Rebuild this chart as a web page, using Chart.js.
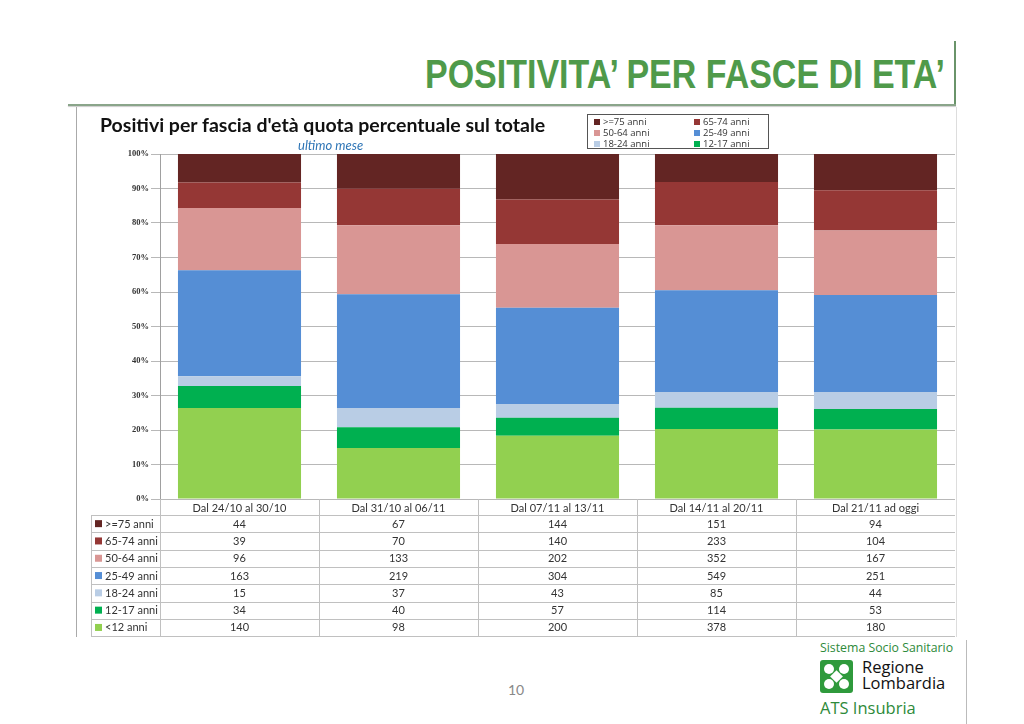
<!DOCTYPE html>
<html>
<head>
<meta charset="utf-8">
<script src="https://cdn.jsdelivr.net/npm/chart.js@4"></script>
<style>
  html, body { margin: 0; padding: 0; background: #fff; }
  body { width: 1024px; height: 724px; position: relative; overflow: hidden; font-family: Lato, "Open Sans", sans-serif; }
  #pageTitle { position: absolute; left: 0; top: 52px; width: 945px; text-align: right; white-space: nowrap;
    font-family: "Liberation Sans Narrow", "Liberation Sans", Arial, sans-serif; font-weight: bold; font-size: 40px; color: #4f9a4a; }
  #pageTitle span { display: inline-block; transform-origin: right center; }
  .rule-h { position: absolute; left: 68px; top: 104px; width: 888px; height: 2px; background: #8aa58a; box-shadow: 0 1px 1px #ccc; }
  .rule-v { position: absolute; left: 954px; top: 41px; width: 2px; height: 65px; background: #6a946a; }
  .frame { position: absolute; left: 76px; top: 107px; width: 879px; height: 530px; border-left: 1px solid #aaa; border-right: 1px solid #ddd; }
  #chartWrap { position: absolute; left: 76px; top: 107px; width: 879px; height: 530px; }
  #chartTitle { position: absolute; left: 100px; top: 113px; font-family: Lato, sans-serif; font-weight: bold; font-size: 19.5px; color: #111; }
  #subTitle { position: absolute; left: 298px; top: 137px; font-family: Lato, sans-serif; font-style: italic; font-size: 13px; color: #2e75b6; }
  #legend { position: absolute; left: 587px; top: 114px; width: 182px; height: 35px; border: 1px solid #555; box-sizing: border-box;
    display: grid; grid-template-columns: 100px 80px; grid-auto-rows: 11px; padding: 1px 0 0 6px; font-family: "Open Sans", sans-serif; font-size: 9.5px; color: #333; }
  #legend div { display: flex; align-items: center; white-space: nowrap; }
  #legend i { display: inline-block; width: 6px; height: 6px; margin-right: 3px; }
  #pageNum { position: absolute; left: 508px; top: 681px; font-family: Lato, sans-serif; font-size: 14px; color: #888; }
  #logo { position: absolute; left: 820px; top: 639px; }
  .sss { position: absolute; left: 0; top: 0; white-space: nowrap; font-family: "Open Sans", sans-serif; font-size: 12.3px; color: #2e8a3a; }
  .reg { position: absolute; left: 42px; top: 20px; white-space: nowrap; font-family: "Open Sans", sans-serif; font-size: 16.5px; line-height: 16px; color: #111; }
  .ats { position: absolute; left: 0; top: 57px; white-space: nowrap; font-family: "Open Sans", sans-serif; font-size: 16.5px; color: #2e8a3a; }
  .rule-v2 { position: absolute; left: 966px; top: 640px; width: 1px; height: 84px; background: #bbb; }
</style>
</head>
<body>
<div id="pageTitle"><span>POSITIVITA’ PER FASCE DI ETA’</span></div>
<div class="rule-v"></div>
<div class="rule-h"></div>
<div class="frame"></div>
<div id="chartWrap"><canvas id="chart"></canvas></div>
<div id="chartTitle">Positivi per fascia d'età quota percentuale sul totale</div>
<div id="subTitle">ultimo mese</div>
<div id="legend"></div>
<div id="pageNum">10</div>
<div class="rule-v2"></div>
<div id="logo">
  <div class="sss">Sistema Socio Sanitario</div>
  <svg style="position:absolute;left:0;top:21px" width="33" height="33" viewBox="0 0 33 33">
    <rect x="0" y="0" width="33" height="33" rx="3" fill="#2f9a3c"/>
    <g fill="#fff">
      <circle cx="9" cy="9" r="5"/><circle cx="24" cy="9" r="5"/>
      <circle cx="9" cy="24" r="5"/><circle cx="24" cy="24" r="5"/>
      <rect x="12" y="12" width="9" height="9" transform="rotate(45 16.5 16.5)"/>
    </g>
    <g fill="#2f9a3c">
      <circle cx="16.5" cy="5" r="3"/><circle cx="16.5" cy="28" r="3"/>
      <circle cx="5" cy="16.5" r="3"/><circle cx="28" cy="16.5" r="3"/>
    </g>
  </svg>
  <div class="reg">Regione<br>Lombardia</div>
  <div class="ats">ATS Insubria</div>
</div>

<script>
// categorie (settimane) e conteggi positivi per fascia d'età
const weeks = ['Dal 24/10 al 30/10', 'Dal 31/10 al 06/11', 'Dal 07/11 al 13/11', 'Dal 14/11 al 20/11', 'Dal 21/11 ad oggi'];
const ageBands = ['>=75 anni', '65-74 anni', '50-64 anni', '25-49 anni', '18-24 anni', '12-17 anni', '<12 anni'];
const over75   = [44, 67, 144, 151, 94];
const age65_74 = [39, 70, 140, 233, 104];
const age50_64 = [96, 133, 202, 352, 167];
const age25_49 = [163, 219, 304, 549, 251];
const age18_24 = [15, 37, 43, 85, 44];
const age12_17 = [34, 40, 57, 114, 53];
const under12  = [140, 98, 200, 378, 180];
const yTicks = [0, 10, 20, 30, 40, 50, 60, 70, 80, 90, 100];

const colors = ['#632523', '#953735', '#d99694', '#558ed5', '#b9cde5', '#00b050', '#92d050'];
const counts = [over75, age65_74, age50_64, age25_49, age18_24, age12_17, under12];

const totals = weeks.map((w, i) => counts.reduce((s, arr) => s + arr[i], 0));

// stack from the bottom: <12 first, >=75 on top
const datasets = counts.map((arr, k) => ({
  label: ageBands[k],
  data: arr.map((v, i) => v / totals[i] * 100),
  backgroundColor: colors[k],
  borderWidth: 0
})).reverse();

// legend box (6 items, no <12)
const legendEl = document.getElementById('legend');
ageBands.slice(0, 6).forEach((b, k) => {
  const d = document.createElement('div');
  d.innerHTML = '<i style="background:' + colors[k] + '"></i>' + b.replace('>=', '&gt;=');
  legendEl.appendChild(d);
});

// fit the page title to its width
const t = document.querySelector('#pageTitle span');
t.style.transform = 'scaleX(' + (520 / t.getBoundingClientRect().width) + ')';

const HEADER_H = 16, ROW_H = 17.3;

const tablePlugin = {
  id: 'dataTable',
  afterDraw(chart) {
    const ctx = chart.ctx;
    const x = chart.scales.x;
    const area = chart.chartArea;
    const colW = (area.right - area.left) / weeks.length;
    const top = area.bottom;
    const bottom = top + HEADER_H + ROW_H * ageBands.length;
    const labelLeft = 15;
    ctx.save();
    ctx.strokeStyle = '#c0c0c0';
    ctx.lineWidth = 1;
    // vertical lines of the value columns
    for (let i = 0; i <= weeks.length; i++) {
      const xx = Math.round(area.left + i * colW) + 0.5;
      ctx.beginPath(); ctx.moveTo(xx, top); ctx.lineTo(xx, bottom); ctx.stroke();
    }
    // label column left edge
    ctx.beginPath(); ctx.moveTo(labelLeft + 0.5, top + HEADER_H); ctx.lineTo(labelLeft + 0.5, bottom); ctx.stroke();
    // horizontal lines
    for (let r = 0; r <= ageBands.length; r++) {
      const yy = Math.round(top + HEADER_H + r * ROW_H) + 0.5;
      ctx.beginPath(); ctx.moveTo(labelLeft, yy); ctx.lineTo(area.right, yy); ctx.stroke();
    }
    ctx.font = '11px Lato, "Open Sans", sans-serif';
    ctx.fillStyle = '#333';
    ctx.textBaseline = 'middle';
    ctx.textAlign = 'center';
    weeks.forEach((w, i) => ctx.fillText(w, x.getPixelForValue(i), top + HEADER_H / 2 + 1));
    ageBands.forEach((b, k) => {
      const yy = top + HEADER_H + (k + 0.5) * ROW_H;
      ctx.textAlign = 'left';
      ctx.fillStyle = colors[k];
      ctx.fillRect(labelLeft + 4, yy - 3.5, 7, 7);
      ctx.fillStyle = '#333';
      ctx.fillText(b, labelLeft + 14, yy + 0.5);
      ctx.textAlign = 'center';
      counts[k].forEach((v, i) => ctx.fillText(String(v), x.getPixelForValue(i), yy + 0.5));
    });
    ctx.restore();
  }
};

new Chart(document.getElementById('chart'), {
  type: 'bar',
  data: { labels: weeks, datasets: datasets },
  options: {
    responsive: true,
    maintainAspectRatio: false,
    animation: false,
    layout: { padding: { top: 47, bottom: 138, left: 0, right: 0 } },
    plugins: { legend: { display: false }, tooltip: { enabled: false } },
    datasets: { bar: { categoryPercentage: 1, barPercentage: 0.774 } },
    scales: {
      x: { stacked: true, display: false },
      y: {
        stacked: true,
        min: 0, max: 100,
        afterFit(s) { s.width = 84; },
        afterBuildTicks(s) { s.ticks = yTicks.map(v => ({ value: v })); },
        border: { color: '#a0a0a0' },
        grid: { color: '#b8b8b8', tickLength: 9 },
        ticks: {
          padding: 2,
          color: '#333',
          font: { family: '"Liberation Serif", serif', size: 8.5, weight: 'bold' },
          callback: v => v + '%'
        }
      }
    }
  },
  plugins: [tablePlugin]
});
</script>
</body>
</html>
